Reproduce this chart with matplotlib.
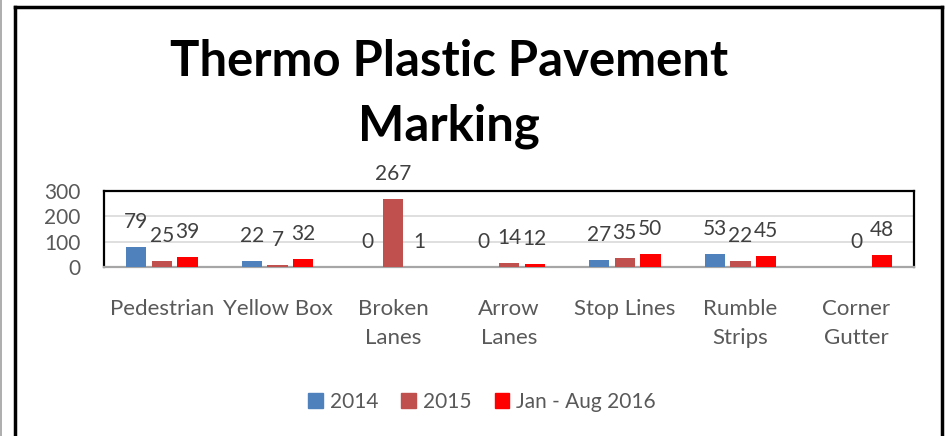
import numpy as np
import matplotlib.pyplot as plt
from matplotlib.lines import Line2D
from matplotlib.patches import Patch

plt.rcParams['font.family'] = ['Lato', 'DejaVu Sans']

# DATA
categories = ["Pedestrian", "Yellow Box", "Broken\nLanes", "Arrow\nLanes",
              "Stop Lines", "Rumble\nStrips", "Corner\nGutter"]
series_names = ["2014", "2015", "Jan - Aug 2016"]
v2014 = [79, 22, 0, 0, 27, 53, np.nan]
v2015 = [25, 7, 267, 14, 35, 22, 0]
v2016 = [39, 32, 1, 12, 50, 45, 48]
colors = ["#4F81BD", "#C0504D", "#FF0000"]
yticks = [0, 100, 200, 300]

TXT = "#595959"

# PLOT
fig = plt.figure(figsize=(9.47, 4.36), dpi=100)
ax = fig.add_axes([104 / 947, 1 - 267 / 436, 810 / 947, 76 / 436])

x = np.arange(len(categories))
step = 0.222
width = 0.175
for i, (vals, c) in enumerate(zip([v2014, v2015, v2016], colors)):
    xs = x + (i - 1) * step
    ax.bar(xs, vals, width, color=c, zorder=3)
    for xx, v in zip(xs, vals):
        if np.isnan(v):
            continue
        ax.annotate(f"{int(v)}", (xx, v), xytext=(0, 18), textcoords="offset points",
                    ha="center", va="center", fontsize=15, color="#404040")

ax.set_xlim(-0.5, len(categories) - 0.5)
ax.set_ylim(0, 300)
ax.set_yticks(yticks)
ax.set_yticklabels([str(t) for t in yticks], fontsize=15, color=TXT)
ax.set_xticks(x)
ax.set_xticklabels(categories, fontsize=16, color=TXT, linespacing=1.55, va="top")
ax.tick_params(axis="y", length=0, pad=17)
ax.tick_params(axis="x", length=0, pad=23)
ax.yaxis.grid(True, color="#d9d9d9", lw=1.2, zorder=0)
for s in ["top", "left", "right"]:
    ax.spines[s].set_color("black")
    ax.spines[s].set_linewidth(1.6)
ax.spines["bottom"].set_color("#a6a6a6")
ax.spines["bottom"].set_linewidth(1.6)

# title
fig.text(449 / 947, 1 - 61 / 436, "Thermo Plastic Pavement", ha="center", va="center",
         fontsize=35.3, fontweight="bold", color="black")
fig.text(449 / 947, 1 - 126 / 436, "Marking", ha="center", va="center",
         fontsize=35.3, fontweight="bold", color="black")

# legend
handles = [Patch(facecolor=c, edgecolor=c) for c in colors]
leg = fig.legend(handles, series_names, loc="center", bbox_to_anchor=(482 / 947, 1 - 402 / 436),
                 ncol=3, frameon=False, fontsize=15, handlelength=0.7, handleheight=0.7,
                 handletextpad=0.35, columnspacing=1.1)
for t in leg.get_texts():
    t.set_color(TXT)

# chart frame
W, H = 947, 436
fig.add_artist(Line2D([15 / W, 15 / W], [0, 1 - 7 / H], color="black", lw=2.5))
fig.add_artist(Line2D([15 / W, 942 / W], [1 - 7 / H, 1 - 7 / H], color="black", lw=2.5))
fig.add_artist(Line2D([942 / W, 942 / W], [0, 1 - 7 / H], color="black", lw=2.5))
fig.add_artist(Line2D([1 / W, 1 / W], [0, 1], color="#a0a0a0", lw=1.2))

fig.savefig("out.png", dpi=100)
